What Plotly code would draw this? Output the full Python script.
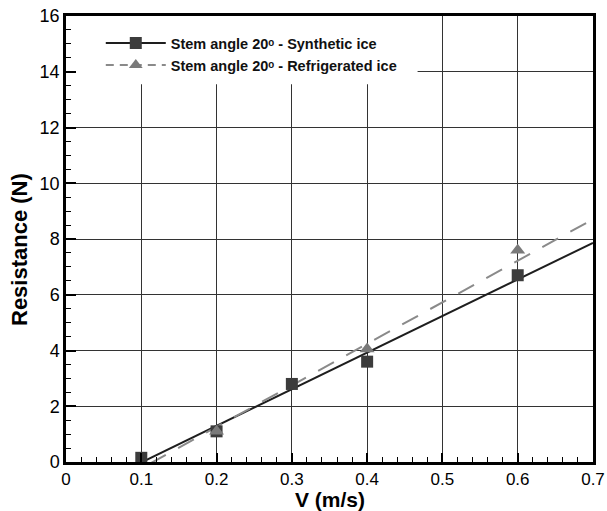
import numpy as np
import plotly.graph_objects as go

# Data
v_synthetic = [0.1, 0.2, 0.3, 0.4, 0.6]
r_synthetic = [0.15, 1.1, 2.8, 3.6, 6.7]
v_refrigerated = [0.2, 0.4, 0.6]
r_refrigerated = [1.1, 4.05, 7.6]
# linear trend coefficients (slope, intercept) as drawn in the picture
trend_synthetic = [13.13, -1.33]
trend_refrigerated = [14.9, -1.72]
trend_x = [0.0, 0.7]

x_ticks = [0, 0.1, 0.2, 0.3, 0.4, 0.5, 0.6, 0.7]
x_tick_labels = ["0", "0.1", "0.2", "0.3", "0.4", "0.5", "0.6", "0.7"]
y_ticks = [0, 2, 4, 6, 8, 10, 12, 14, 16]

name_synthetic = "<b>Stem angle 20ᵒ - Synthetic ice</b>"
name_refrigerated = "<b>Stem angle 20ᵒ - Refrigerated ice</b>"
x_title = "<b>V (m/s)</b>"
y_title = "<b>Resistance (N)</b>"

FONT = "Liberation Sans, Arial, sans-serif"
DARK = "#1e1e1e"
DARK_M = "#3c3c3c"
GREY = "#8a8a8a"
GREY_M = "#7a7a7a"

tx = np.array(trend_x)
fig = go.Figure()
# trend lines
fig.add_trace(go.Scatter(x=tx, y=trend_synthetic[0] * tx + trend_synthetic[1], mode="lines",
                         line=dict(color=DARK, width=2), showlegend=False, hoverinfo="skip"))
fig.add_trace(go.Scatter(x=tx, y=trend_refrigerated[0] * tx + trend_refrigerated[1], mode="lines",
                         line=dict(color=GREY, width=2, dash="18px,14px"), showlegend=False,
                         hoverinfo="skip"))
# measured points
fig.add_trace(go.Scatter(x=v_synthetic, y=r_synthetic, mode="markers", showlegend=False,
                         marker=dict(symbol="square", size=12, color=DARK_M), cliponaxis=False))
fig.add_trace(go.Scatter(x=v_refrigerated, y=r_refrigerated, mode="markers", showlegend=False,
                         marker=dict(symbol="triangle-up", size=13, color=GREY_M), cliponaxis=False))
# legend entries
fig.add_trace(go.Scatter(x=[None], y=[None], mode="lines+markers", name=name_synthetic,
                         line=dict(color=DARK, width=2),
                         marker=dict(symbol="square", size=12, color=DARK_M)))
fig.add_trace(go.Scatter(x=[None], y=[None], mode="lines+markers", name=name_refrigerated,
                         line=dict(color=GREY, width=2, dash="8px,6px"),
                         marker=dict(symbol="triangle-up", size=12, color=GREY_M)))

fig.update_layout(
    width=607, height=511,
    margin=dict(l=66, r=14, t=16, b=49),
    paper_bgcolor="white", plot_bgcolor="white",
    font=dict(family=FONT, color="black", size=17),
    legend=dict(x=0.066, y=0.975, xanchor="left", yanchor="top", bgcolor="rgba(0,0,0,0)",
                borderwidth=0, font=dict(size=14.5, family=FONT, color="#111"),
                tracegroupgap=0, itemwidth=60),
    shapes=[dict(type="rect", xref="x", yref="y", x0=0, x1=0.467, y0=13.55, y1=16,
                 fillcolor="white", line=dict(width=0), layer="between")],
    annotations=[
        dict(text=x_title, xref="paper", yref="paper", x=0.5, y=0, yshift=-37,
             xanchor="center", yanchor="middle", showarrow=False, font=dict(size=21)),
        dict(text=y_title, xref="paper", yref="paper", x=0, y=0.5, xshift=-47, yshift=-11,
             xanchor="center", yanchor="middle", textangle=-90, showarrow=False,
             font=dict(size=22)),
    ],
    xaxis=dict(range=[0, 0.7], tickvals=x_ticks, ticktext=x_tick_labels, automargin=False,
               tickfont=dict(size=17),
               ticks="inside", ticklen=9, tickwidth=2, tickcolor="black",
               showline=True, linewidth=2.5, linecolor="black", mirror=True,
               showgrid=True, gridcolor="#333", gridwidth=1, zeroline=False,
               minor=dict(dtick=0.02, ticks="inside", ticklen=5, tickwidth=1,
                          tickcolor="black", showgrid=False)),
    yaxis=dict(range=[0, 16], tickvals=y_ticks, automargin=False,
               tickfont=dict(size=18),
               ticks="inside", ticklen=10, tickwidth=2, tickcolor="black",
               showline=True, linewidth=2.5, linecolor="black", mirror=True,
               showgrid=True, gridcolor="#333", gridwidth=1, zeroline=False,
               minor=dict(dtick=0.5, ticks="inside", ticklen=5, tickwidth=1,
                          tickcolor="black", showgrid=False)),
)

fig.write_html("out.html")
